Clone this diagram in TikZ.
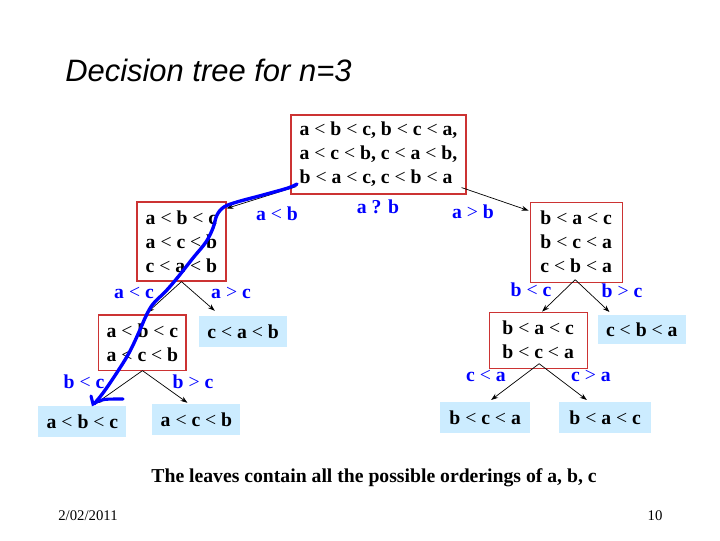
\documentclass[tikz,border=0pt]{standalone}
\usepackage{fontspec}
\setmainfont{Liberation Serif}
\newfontfamily\titlefont{Liberation Sans}
\usetikzlibrary{positioning,calc,arrows.meta}
\definecolor{boxred}{RGB}{204,51,51}
\definecolor{leafblue}{RGB}{204,236,255}
\definecolor{inkblue}{RGB}{0,0,255}
\newcommand{\lsym}{{\mdseries<}}
\newcommand{\gsym}{{\mdseries>}}
\tikzset{
  setbox/.style={draw=boxred, line width=0.8pt, inner sep=0pt, align=center, font=\bfseries\fontsize{14}{17}\selectfont},
  leafbox/.style={fill=leafblue, minimum width=2.2cm, minimum height=0.775cm, inner sep=0pt, font=\bfseries\fontsize{14}{16}\selectfont},
  lbl/.style={text=inkblue, inner sep=0pt, font=\bfseries\fontsize{14}{16}\selectfont},
  branch/.style={-{Stealth[length=5pt,width=3.5pt]}, line width=0.5pt},
}

\begin{document}
\begin{tikzpicture}[x=0.025cm, y=-0.025cm, on grid]
  \useasboundingbox (0,0) rectangle (720,540);

  \node[anchor=west, inner sep=0pt, font=\titlefont\itshape\fontsize{22}{26}\selectfont] (title) at (65,70) {Decision tree for n=3};

  \node[setbox, align=left, minimum width=4.375cm, minimum height=1.975cm] (root) at (378.5,154.5)
    {a \lsym{} b \lsym{} c, b \lsym{} c \lsym{} a,\\ a \lsym{} c \lsym{} b, c \lsym{} a \lsym{} b,\\ b \lsym{} a \lsym{} c, c \lsym{} b \lsym{} a};
  \node[setbox, align=left, minimum width=2.225cm, minimum height=1.975cm] (l) [below left=2.175cm and 4.925cm of root]
    {a \lsym{} b \lsym{} c\\ a \lsym{} c \lsym{} b\\ c \lsym{} a \lsym{} b};
  \node[setbox, minimum width=2.3cm, minimum height=2cm] (r) [below right=2.19cm and 4.94cm of root]
    {b \lsym{} a \lsym{} c\\ b \lsym{} c \lsym{} a\\ c \lsym{} b \lsym{} a};
  \node[setbox, minimum width=2.175cm, minimum height=1.375cm] (ll) [below left=2.525cm and 0.975cm of l]
    {a \lsym{} b \lsym{} c\\ a \lsym{} c \lsym{} b};
  \node[leafbox] (lr) [below right=2.25cm and 1.54cm of l] {c \lsym{} a \lsym{} b};
  \node[leafbox] (lll) [below left=1.975cm and 1.5cm of ll] {a \lsym{} b \lsym{} c};
  \node[leafbox] (llr) [below right=1.925cm and 1.35cm of ll] {a \lsym{} c \lsym{} b};
  \node[setbox, minimum width=2.45cm, minimum height=1.4cm] (rl) [below left=2.45cm and 0.95cm of r]
    {b \lsym{} a \lsym{} c\\ b \lsym{} c \lsym{} a};
  \node[leafbox, minimum height=0.725cm] (rr) [below right=2.19cm and 1.64cm of r] {c \lsym{} b \lsym{} a};
  \node[leafbox, minimum width=2.25cm] (rll) [below left=1.94cm and 1.325cm of rl] {b \lsym{} c \lsym{} a};
  \node[leafbox, minimum width=2.3cm] (rlr) [below right=1.94cm and 1.675cm of rl] {b \lsym{} a \lsym{} c};

  \draw[branch] ($(root.south west)+(6,-8)$) -- ($(l.north east)+(0,7)$);
  \draw[branch] ($(root.south east)+(-5,-7)$) -- ($(r.north west)+(-1,9)$);
  \draw[branch] (l.south) -- ($(ll.north)+(5,-2)$);
  \draw[branch] (l.south) -- ($(lr.north west)+(16,-5)$);
  \draw[branch] (ll.south) -- ($(lll.north)+(13,-2)$);
  \draw[branch] (ll.south) -- ($(llr.north)+(-9,-1)$);
  \draw[branch] ($(r.south)+(-1,-3)$) -- ($(rl.north)+(4,0)$);
  \draw[branch] ($(r.south)+(-1,-3)$) -- ($(rr.north west)+(12,-3)$);
  \draw[branch] ($(rl.south)+(1,-5)$) -- ($(rll.north)+(6,-2)$);
  \draw[branch] ($(rl.south)+(1,-5)$) -- ($(rlr.north west)+(28,-2)$);

  \node[lbl] (ab) at (378,207) {a ? b};
  \node[lbl] (ablt) at (277,214) {a \lsym{} b};
  \node[lbl] (abgt) at (473,212) {a \gsym{} b};
  \node[lbl] (aclt) at (134,293) {a \lsym{} c};
  \node[lbl] (acgt) at (231,293) {a \gsym{} c};
  \node[lbl] (bclt1) at (84,382) {b \lsym{} c};
  \node[lbl] (bcgt1) at (193,382) {b \gsym{} c};
  \node[lbl] (bclt2) at (531,290) {b \lsym{} c};
  \node[lbl] (bcgt2) at (622,291) {b \gsym{} c};
  \node[lbl] (calt) at (486,376) {c \lsym{} a};
  \node[lbl] (cagt) at (591,376) {c \gsym{} a};

  \draw[inkblue, line width=2.4pt, line cap=round, line join=round] plot[smooth, tension=0.6] coordinates {
    (297,184) (288,188) (263,195) (237,202) (224,207) (217,215) (213,228) (206,242) (193,258)
    (178,277) (166,291) (153,304) (146,316) (139,332) (129,353) (116,374) (103,393) (94,404)};
  \draw[inkblue, line width=2.2pt, line cap=round] (91,396) -- (93,404) .. controls (102,399) .. (123,399);

  \node[font=\bfseries\fontsize{14}{16}\selectfont] (caption) at (374,478) {The leaves contain all the possible orderings of a, b, c};
  \node[font=\fontsize{10.5}{12}\selectfont] (date) at (88,516) {2/02/2011};
  \node[font=\fontsize{10.5}{12}\selectfont] (page) at (655,516) {10};
\end{tikzpicture}
\end{document}
